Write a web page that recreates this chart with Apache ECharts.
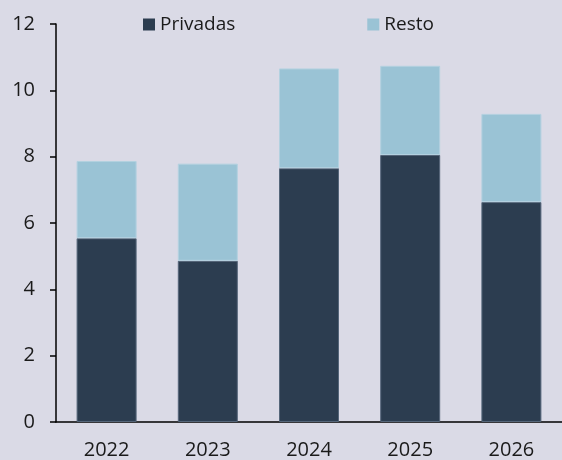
<!DOCTYPE html>
<html>
<head>
<meta charset="utf-8">
<script src="https://cdn.jsdelivr.net/npm/echarts@6/dist/echarts.min.js"></script>
<style>
  html, body { margin: 0; padding: 0; background: #dadae6; }
  #chart { width: 562px; height: 460px; }
</style>
</head>
<body>
<div id="chart"></div>
<script>
// datos
const years = ['2022', '2023', '2024', '2025', '2026'];
const privadas = [5.54, 4.86, 7.65, 8.05, 6.63];
const resto = [2.33, 2.93, 3.01, 2.69, 2.66];
const yTicks = { min: 0, max: 12, interval: 2 };

const chart = echarts.init(document.getElementById('chart'), null, { renderer: 'canvas' });
const font = '"Open Sans", "Noto Sans", sans-serif';

chart.setOption({
  backgroundColor: '#dadae6',
  animation: false,
  textStyle: { fontFamily: font },
  legend: {
    left: 138,
    top: 10,
    itemWidth: 12,
    itemHeight: 12,
    itemGap: 132,
    icon: 'rect',
    itemStyle: { borderWidth: 0 },
    textStyle: { fontSize: 19, color: '#1a1a1a' },
    data: ['Privadas', 'Resto']
  },
  grid: { left: 56, right: 0, top: 24, bottom: 38 },
  xAxis: {
    type: 'category',
    data: years,
    axisLine: { lineStyle: { color: '#000', width: 1.5 } },
    axisTick: { show: false },
    axisLabel: { fontSize: 20, color: '#1a1a1a', margin: 18 }
  },
  yAxis: {
    type: 'value',
    min: yTicks.min,
    max: yTicks.max,
    interval: yTicks.interval,
    splitLine: { show: false },
    axisLine: { show: true, lineStyle: { color: '#000', width: 1.5 } },
    axisTick: { show: true, length: 6, lineStyle: { color: '#000', width: 1.5 } },
    axisLabel: { fontSize: 20, color: '#1a1a1a', margin: 21 }
  },
  series: [
    {
      name: 'Privadas',
      type: 'bar',
      stack: 'total',
      data: privadas,
      barWidth: 60,
      itemStyle: { color: '#2c3d50', borderColor: '#55667a', borderWidth: 1 }
    },
    {
      name: 'Resto',
      type: 'bar',
      stack: 'total',
      data: resto,
      barWidth: 60,
      itemStyle: { color: '#9ac3d5', borderColor: '#b3d1e0', borderWidth: 1 }
    }
  ]
});
</script>
</body>
</html>
